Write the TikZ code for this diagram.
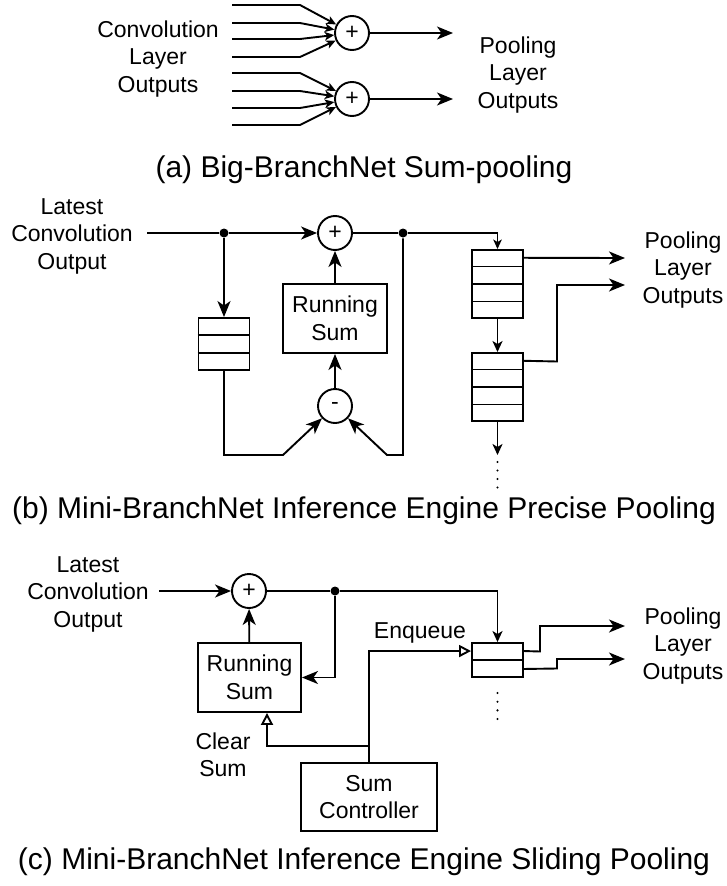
\documentclass[tikz,border=0pt]{standalone}
\usepackage{fontspec}
\setmainfont{Liberation Sans}
\usetikzlibrary{arrows.meta,calc}
\begin{document}
\begin{tikzpicture}[x=1pt,y=-1pt, line width=1.9pt,
  every node/.style={font=\fontsize{23}{27.5}\selectfont, inner sep=0pt},
  lbl/.style={align=center},
  captxt/.style={font=\fontsize{30}{36}\selectfont, anchor=base},
  sumc/.style={draw, circle, minimum size=34pt, inner sep=0pt},
  box/.style={draw, rectangle, inner sep=0pt, align=center},
  dotj/.style={circle, fill, minimum size=9pt, inner sep=0pt},
  big/.style={-{Stealth[length=16pt,width=13pt,inset=4.5pt]}},
  med/.style={-{Stealth[length=11pt,width=10pt,inset=3pt]}},
  sml/.style={-{Stealth[length=9.5pt,width=8.5pt,inset=2.5pt]}},
  opn/.style={-{Triangle[open,length=12pt,width=12pt,fill=white]}},
  ]
\useasboundingbox (0,0) rectangle (727,886);

% ---------------- (a) ----------------
\node[sumc] (pa1) at (352,33) {+};
\node[sumc] (pa2) at (352,99) {+};
\foreach \y in {5,23,39,57}{
  \draw[sml] (232,\y) -- (300,\y) -- (pa1);
}
\foreach \y in {73,91,108,125}{
  \draw[sml] (232,\y) -- (300,\y) -- (pa2);
}
\coordinate (oa1) at (453,33);
\coordinate (oa2) at (453,99);
\draw[big] (pa1) -- (oa1);
\draw[big] (pa2) -- (oa2);
\node[lbl] (ta) at (158,59) {Convolution\\Layer\\Outputs};
\node[lbl] (tpa) at (518,75) {Pooling\\Layer\\Outputs};
\node[captxt] (capa) at (364,177) {(a) Big-BranchNet Sum-pooling};

% ---------------- (b) ----------------
\node[lbl] (tb) at (72,236) {Latest\\Convolution\\Output};
\coordinate (sb) at (147,233);
\node[dotj] (d1) at (224,233) {};
\node[sumc] (pb) at (335,233) {+};
\node[dotj] (d2) at (403,233) {};
\node[box, minimum width=51pt, minimum height=52pt] (ql) at (224,344) {};
\foreach \f in {0.3333,0.6667}
  \draw ($(ql.north west)!\f!(ql.south west)$) -- ($(ql.north east)!\f!(ql.south east)$);
\node[box, minimum width=104pt, minimum height=69pt] (rsb) at (335,318.5) {Running\\Sum};
\node[sumc] (mb) at (335,406) {-};
\node[box, minimum width=51pt, minimum height=68pt] (q1) at (497.5,284) {};
\node[box, minimum width=51pt, minimum height=68pt] (q2) at (497.5,387) {};
\foreach \q in {q1,q2}
  \foreach \f in {0.25,0.5,0.75}
    \draw ($(\q.north west)!\f!(\q.south west)$) -- ($(\q.north east)!\f!(\q.south east)$);

\draw (sb) -- (d1);
\draw[big] (d1) -- (pb);
\draw (pb) -- (d2);
\draw[big] (d1) -- (ql.north);
\draw[big] (rsb) -- (pb);
\draw[big] (mb) -- (rsb);
\draw[big] (ql.south) -- (224,455) -- (283,455) -- (mb);
\draw[big] (d2) -- (403,455) -- (387,455) -- (mb);
\draw[sml] (d2) -| (q1.north);
\draw[med] (q1) -- (q2);
\coordinate (eb) at (497.5,455);
\draw[med] (q2.south) -- (eb);
\foreach \y in {462,470.5,479,487.5} \fill (497.5,\y) circle (1.2pt);
\coordinate (ob1) at (625,258);
\coordinate (ob2) at (625,285);
\draw[big] ($(q1.north east)!0.125!(q1.south east)$) -- (ob1);
\draw[big] ($(q2.north east)!0.125!(q2.south east)$) -- (557,361.5) -- (557,285) -- (ob2);
\node[lbl] (tpb) at (683,270) {Pooling\\Layer\\Outputs};
\node[captxt] (capb) at (364,518) {(b) Mini-BranchNet Inference Engine Precise Pooling};

% ---------------- (c) ----------------
\node[lbl] (tc) at (88,594) {Latest\\Convolution\\Output};
\coordinate (sc0) at (159,591);
\node[sumc] (pc) at (249,591) {+};
\node[dotj] (d3) at (335,591) {};
\node[box, minimum width=103pt, minimum height=69pt] (rsc) at (249.5,677.5) {Running\\Sum};
\node[box, minimum width=51pt, minimum height=34pt] (qc) at (497.5,660) {};
\draw ($(qc.north west)!0.5!(qc.south west)$) -- ($(qc.north east)!0.5!(qc.south east)$);
\node[box, minimum width=136pt, minimum height=68pt] (ctl) at (369,797) {Sum\\Controller};

\draw[big] (sc0) -- (pc);
\draw (pc) -- (d3);
\draw[big] (rsc) -- (pc);
\draw[big] (d3) |- (rsc.east);
\draw[med] (d3) -| (qc.north);
\draw[opn] (ctl.north) |- ($(qc.north west)!0.25!(qc.south west)$);
\coordinate (cj) at (369,746);
\draw[opn] (cj) -| ($(rsc.south)+(17.5,0)$);
\foreach \y in {693,701.7,710.3,719} \fill (497.5,\y) circle (1.2pt);
\coordinate (oc1) at (625,626);
\coordinate (oc2) at (625,659);
\draw[big] ($(qc.north east)!0.25!(qc.south east)$) -- (540,651.5) -- (540,626) -- (oc1);
\draw[big] ($(qc.north east)!0.75!(qc.south east)$) -- (557,668.5) -- (557,659) -- (oc2);
\node[lbl] (tcl) at (223,755) {Clear\\Sum};
\node (tenq) at (420,633) {Enqueue};
\node[lbl] (tpc) at (683,646) {Pooling\\Layer\\Outputs};
\node[captxt] (capc) at (364,869) {(c) Mini-BranchNet Inference Engine Sliding Pooling};
\end{tikzpicture}
\end{document}
